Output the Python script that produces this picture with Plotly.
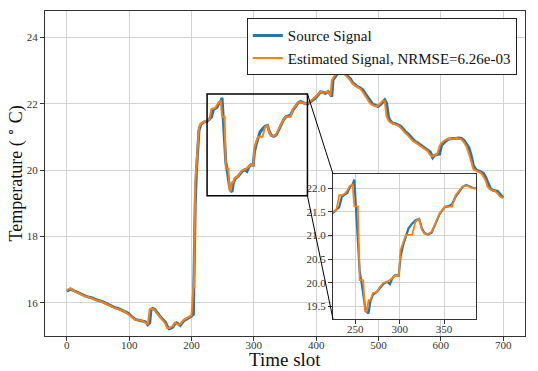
import plotly.graph_objects as go

# ---- data ----
time_slot = [0, 3, 6, 10, 14, 18, 22, 26, 30, 34, 38, 42, 46, 50, 54, 58, 62, 66, 70, 74,
             78, 82, 86, 90, 94, 98, 102, 106, 110, 114, 118, 122, 126, 130, 133, 135, 138, 141, 144, 147,
             150, 154, 158, 161, 164, 167, 170, 173, 176, 179, 182, 185, 189, 193, 197, 200, 203, 204, 206, 208,
             210, 212, 215, 220, 225, 229, 232, 235, 238, 241, 244, 247, 249, 251, 253, 255, 257, 259, 261, 263,
             265, 267, 270, 274, 278, 282, 286, 289, 292, 295, 299, 301, 304, 307, 310, 314, 318, 322, 325, 328,
             332, 336, 339, 342, 345, 348, 351, 355, 359, 363, 367, 371, 375, 379, 383, 387, 391, 395, 399, 403,
             407, 411, 415, 419, 423, 425, 427, 431, 435, 439, 443, 447, 451, 455, 459, 463, 467, 471, 475, 479,
             483, 487, 491, 495, 499, 503, 507, 510, 513, 516, 519, 523, 527, 531, 535, 539, 543, 547, 551, 555,
             559, 563, 567, 571, 575, 579, 583, 587, 590, 594, 598, 601, 605, 609, 613, 617, 621, 625, 629, 633,
             637, 641, 645, 649, 652, 656, 660, 664, 668, 672, 675, 679, 683, 687, 691, 695, 700]

source_signal = [16.35, 16.40, 16.42, 16.38, 16.34, 16.30, 16.27, 16.24, 16.20, 16.18, 16.17, 16.14, 16.10, 16.08, 16.07, 16.03, 15.99, 15.95, 15.91, 15.88,
                 15.85, 15.83, 15.80, 15.77, 15.74, 15.69, 15.62, 15.55, 15.50, 15.48, 15.47, 15.46, 15.43, 15.34, 15.40, 15.80, 15.83, 15.80, 15.74, 15.66,
                 15.58, 15.50, 15.42, 15.30, 15.22, 15.24, 15.27, 15.36, 15.40, 15.36, 15.32, 15.40, 15.48, 15.52, 15.56, 15.60, 15.65, 17.20, 19.00, 20.00,
                 20.60, 21.20, 21.38, 21.45, 21.48, 21.54, 21.60, 21.82, 21.87, 21.90, 22.02, 22.08, 22.18, 21.50, 20.70, 20.25, 20.02, 19.75, 19.50, 19.38,
                 19.35, 19.60, 19.75, 19.80, 19.90, 19.98, 20.02, 19.97, 20.10, 20.16, 20.15, 20.55, 20.80, 21.00, 21.15, 21.25, 21.32, 21.35, 21.15, 21.05,
                 21.02, 21.06, 21.18, 21.30, 21.45, 21.53, 21.60, 21.62, 21.66, 21.82, 21.93, 22.03, 22.07, 22.04, 22.00, 22.00, 22.05, 22.12, 22.18, 22.29,
                 22.36, 22.35, 22.32, 22.37, 22.30, 22.22, 22.72, 22.83, 22.95, 23.00, 23.02, 22.90, 22.82, 22.75, 22.63, 22.57, 22.51, 22.48, 22.42, 22.30,
                 22.18, 22.06, 21.98, 21.96, 21.92, 21.98, 22.06, 22.12, 22.02, 21.60, 21.48, 21.42, 21.40, 21.37, 21.33, 21.26, 21.16, 21.10, 21.02, 20.93,
                 20.86, 20.82, 20.77, 20.72, 20.66, 20.60, 20.55, 20.38, 20.45, 20.47, 20.49, 20.75, 20.84, 20.90, 20.94, 20.94, 20.94, 20.96, 20.97, 20.96,
                 20.90, 20.80, 20.68, 20.42, 20.15, 20.02, 19.98, 19.95, 19.91, 19.78, 19.65, 19.46, 19.40, 19.38, 19.36, 19.27, 19.17]

estimated_signal = [16.37, 16.42, 16.43, 16.37, 16.33, 16.30, 16.26, 16.22, 16.19, 16.18, 16.16, 16.12, 16.09, 16.08, 16.05, 16.01, 15.97, 15.93, 15.90, 15.87,
                    15.84, 15.82, 15.79, 15.76, 15.72, 15.66, 15.59, 15.53, 15.49, 15.48, 15.47, 15.45, 15.40, 15.36, 15.80, 15.82, 15.82, 15.78, 15.70, 15.62,
                    15.55, 15.47, 15.38, 15.24, 15.24, 15.26, 15.30, 15.40, 15.38, 15.34, 15.36, 15.44, 15.50, 15.54, 15.58, 15.62, 16.47, 16.47, 19.60, 20.30,
                    20.90, 21.30, 21.40, 21.46, 21.50, 21.55, 21.85, 21.85, 21.88, 21.95, 22.05, 22.08, 21.62, 21.61, 21.61, 20.06, 20.06, 20.05, 19.40, 19.39,
                    19.63, 19.63, 19.78, 19.80, 19.92, 20.00, 20.02, 20.06, 20.10, 20.16, 20.14, 20.69, 20.87, 21.01, 21.01, 21.01, 21.30, 21.35, 21.12, 21.04,
                    21.03, 21.08, 21.20, 21.32, 21.47, 21.54, 21.61, 21.61, 21.61, 21.85, 21.95, 22.04, 22.06, 22.02, 22.00, 22.01, 22.08, 22.15, 22.22, 22.32,
                    22.36, 22.34, 22.35, 22.36, 22.24, 22.70, 22.78, 22.88, 22.98, 23.02, 22.95, 22.86, 22.79, 22.70, 22.60, 22.54, 22.49, 22.45, 22.35, 22.22,
                    22.10, 22.00, 21.96, 21.93, 21.94, 22.03, 22.10, 22.08, 21.62, 21.50, 21.44, 21.41, 21.38, 21.35, 21.29, 21.19, 21.12, 21.05, 20.96, 20.88,
                    20.84, 20.79, 20.74, 20.68, 20.62, 20.57, 20.45, 20.42, 20.46, 20.48, 20.72, 20.82, 20.88, 20.93, 20.94, 20.94, 20.95, 20.97, 20.96, 20.93,
                    20.84, 20.72, 20.50, 20.20, 20.04, 19.99, 19.96, 19.92, 19.82, 19.68, 19.50, 19.42, 19.39, 19.37, 19.30, 19.20, 19.17]

legend_names = ["Source Signal", "Estimated Signal, NRMSE=6.26e-03"]
main_xticks = [0, 100, 200, 300, 400, 500, 600, 700]
main_yticks = [16, 18, 20, 22, 24]
inset_xticks = [250, 300, 350]
inset_yticks = [19.5, 20.0, 20.5, 21.0, 21.5, 22.0]
x_title = "Time slot"
y_title = "Temperature ( <sup>∘</sup> C)"

# ---- style ----
BLUE = "#1f77b4"
ORANGE = "#ff7f0e"
FONT = "Liberation Serif, Times New Roman, serif"
GRID = "#d3d3d3"
SPINE = "#333333"

main_xrange = [-35, 735]
main_yrange = [15.0, 24.8]
inset_xrange = [225, 386]
inset_yrange = [19.23, 22.30]
inset_xdom = [0.60, 0.898]
inset_ydom = [0.052, 0.4985]

fig = go.Figure()
fig.add_trace(go.Scatter(x=time_slot, y=source_signal, mode="lines", name=legend_names[0],
                         line=dict(color=BLUE, width=3)))
fig.add_trace(go.Scatter(x=time_slot, y=estimated_signal, mode="lines", name=legend_names[1],
                         line=dict(color=ORANGE, width=2)))
fig.add_trace(go.Scatter(x=time_slot, y=source_signal, mode="lines", showlegend=False,
                         line=dict(color=BLUE, width=2.2), xaxis="x2", yaxis="y2"))
fig.add_trace(go.Scatter(x=time_slot, y=estimated_signal, mode="lines", showlegend=False,
                         line=dict(color=ORANGE, width=1.8), xaxis="x2", yaxis="y2"))

axis_common = dict(showline=True, mirror=True, linecolor=SPINE, linewidth=1.2,
                   showgrid=True, gridcolor=GRID, gridwidth=1, zeroline=False,
                   ticks="outside", ticklen=4, tickcolor=SPINE, tickwidth=1, automargin=False,
                   tickfont=dict(family=FONT, size=11, color="#333333"))

fig.update_layout(
    width=538, height=371,
    margin=dict(l=45, r=13, t=11, b=35),
    paper_bgcolor="white", plot_bgcolor="white",
    font=dict(family=FONT, color="#222222"),
    xaxis=dict(range=main_xrange, tickvals=main_xticks, domain=[0, 1], ticklabelstandoff=-5,
               **axis_common),
    yaxis=dict(range=main_yrange, tickvals=main_yticks, domain=[0, 1], **axis_common),
    xaxis2=dict(range=inset_xrange, tickvals=inset_xticks, domain=inset_xdom, anchor="y2",
                ticklabelstandoff=-4, **axis_common),
    yaxis2=dict(range=inset_yrange, tickvals=inset_yticks, tickformat=".1f", domain=inset_ydom, anchor="x2",
                **axis_common),
    legend=dict(x=0.983, y=0.978, xanchor="right", yanchor="top",
                bgcolor="white", bordercolor="#222222", borderwidth=1,
                font=dict(family=FONT, size=15, color="#111111"),
                tracegroupgap=0, itemwidth=30),
    showlegend=True,
)

# axis titles as annotations for precise placement
fig.add_annotation(text=x_title, xref="paper", yref="paper", x=0.5, y=0, xanchor="center",
                   yanchor="bottom", yshift=-35, showarrow=False, borderpad=0,
                   font=dict(family=FONT, size=19, color="#111111"))
fig.add_annotation(text=y_title, xref="paper", yref="paper", x=0, y=0.5, xanchor="center",
                   yanchor="middle", xshift=-30, textangle=-90, showarrow=False,
                   font=dict(family=FONT, size=18, color="#111111"))

# white background of inset (covers main grid)
fig.add_shape(type="rect", xref="x2 domain", yref="y2 domain", x0=0, x1=1, y0=0, y1=1,
              fillcolor="white", line=dict(width=0), layer="below")
# zoom rectangle on main axes
fig.add_shape(type="rect", xref="x", yref="y", x0=inset_xrange[0], x1=inset_xrange[1],
              y0=inset_yrange[0], y1=inset_yrange[1], line=dict(color="black", width=1.5))

# connector lines (paper coordinates computed from the axis ranges)
def px(v):
    return (v - main_xrange[0]) / (main_xrange[1] - main_xrange[0])

def py(v):
    return (v - main_yrange[0]) / (main_yrange[1] - main_yrange[0])

fig.add_shape(type="line", xref="paper", yref="paper",
              x0=px(inset_xrange[1]), y0=py(inset_yrange[1]), x1=inset_xdom[0], y1=inset_ydom[1],
              line=dict(color="black", width=1))
fig.add_shape(type="line", xref="paper", yref="paper",
              x0=px(inset_xrange[1]), y0=py(inset_yrange[0]), x1=inset_xdom[0], y1=inset_ydom[0],
              line=dict(color="black", width=1))

fig.write_html("out.html", config={"displayModeBar": False},
               post_script="document.body.style.margin='0px';")
